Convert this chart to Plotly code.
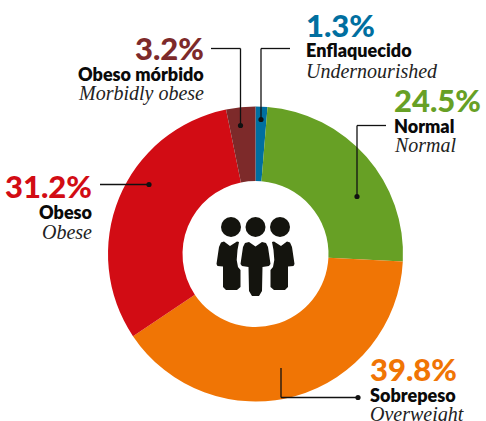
import plotly.graph_objects as go

W, H = 486, 421
labels = ["Enflaquecido", "Normal", "Sobrepeso", "Obeso", "Obeso mórbido"]
english = ["Undernourished", "Normal", "Overweight", "Obese", "Morbidly obese"]
values = [1.3, 24.5, 39.8, 31.2, 3.2]
colors = ["#006FA0", "#67A025", "#F07505", "#D20C14", "#7D2A2A"]

def X(x): return x / W
def Y(y): return 1 - y / H

fig = go.Figure(go.Pie(
    labels=labels, values=values, sort=False, direction="clockwise", rotation=0,
    hole=0.495, textinfo="none", showlegend=False,
    marker=dict(colors=colors, line=dict(width=0)),
    domain=dict(x=[X(108), X(403)], y=[Y(401.5), Y(106.5)]),
))

def line(points):
    for (a, b), (c, d) in zip(points, points[1:]):
        fig.add_shape(type="line", xref="paper", yref="paper", x0=X(a), y0=Y(b), x1=X(c), y1=Y(d),
                      line=dict(color="#111111", width=1.3))

def circle(cx, cy, r, color="#111111"):
    fig.add_shape(type="circle", xref="paper", yref="paper", x0=X(cx - r), x1=X(cx + r),
                  y0=Y(cy + r), y1=Y(cy - r), fillcolor=color, line=dict(width=0))

def poly(points, color="#14140E"):
    path = "M " + " L ".join(f"{X(a):.5f},{Y(b):.5f}" for a, b in points) + " Z"
    fig.add_shape(type="path", xref="paper", yref="paper", path=path, fillcolor=color, line=dict(width=0))

# leader lines
leaders = [
    ([(290, 48.5), (261, 48.5), (261, 119.5)], (261, 119.5)),
    ([(211, 48.5), (240.5, 48.5), (240.5, 125.5)], (240.5, 125.5)),
    ([(386, 125.5), (357, 125.5), (357, 196.5)], (357, 196.5)),
    ([(100, 184.5), (149, 184.5)], (149, 184.5)),
    ([(281, 368), (281, 397.5), (358, 397.5)], (358, 397.5)),
]
for pts, dot in leaders:
    line(pts)
    circle(dot[0], dot[1], 2.6)

# people icon
for cx in (231, 255.5, 280):
    circle(cx, 227, 10, "#14140E")
left_body = [(221, 242.5), (224, 241.5), (230, 246), (237, 241.5), (239, 242), (237.5, 250), (236.7, 260),
             (238, 267), (240.5, 270), (240.5, 287), (237, 290), (226, 290), (223, 287), (223, 266.5),
             (217.5, 266), (216.5, 264), (219, 247)]
poly(left_body)
poly([(2 * 255.5 - a, b) for a, b in left_body])
poly([(245, 243), (249, 242), (255.5, 246.5), (262, 242), (266, 243), (268, 247), (270.5, 264), (269, 266),
      (262.5, 267), (262, 291), (259, 296), (252, 296), (249, 291), (248.5, 267), (242, 266), (240.5, 264), (243, 247)])

def text(x, y, s, anchor, size, color, weight=700, family="Lato", style="normal"):
    fig.add_annotation(xref="paper", yref="paper", x=X(x), y=Y(y), text=s, showarrow=False,
                       xanchor=anchor, yanchor="middle", xshift=0, yshift=0,
                       borderpad=0, borderwidth=0,
                       font=dict(family=family, size=size, color=color, weight=weight, style=style))

blocks = [
    (0, 306, "left", 25),
    (4, 204, "right", 48),
    (1, 394, "left", 100),
    (3, 92, "right", 186),
    (2, 370, "left", 369),
]
for i, x, anchor, y in blocks:
    text(x, y, f"{values[i]}%", anchor, 31, colors[i], weight=900)
    text(x, y + 25.5, labels[i], anchor, 18, "#0A0A0A", weight=800)
    text(x, y + 45.5, english[i], anchor, 20, "#222222", weight=400, family="Liberation Serif", style="italic")

fig.update_layout(width=W, height=H, margin=dict(l=0, r=0, t=0, b=0),
                  paper_bgcolor="white", plot_bgcolor="white")
fig.write_html("out.html", config=dict(displayModeBar=False),
               post_script="document.body.style.margin='0';document.body.style.overflow='hidden';")
